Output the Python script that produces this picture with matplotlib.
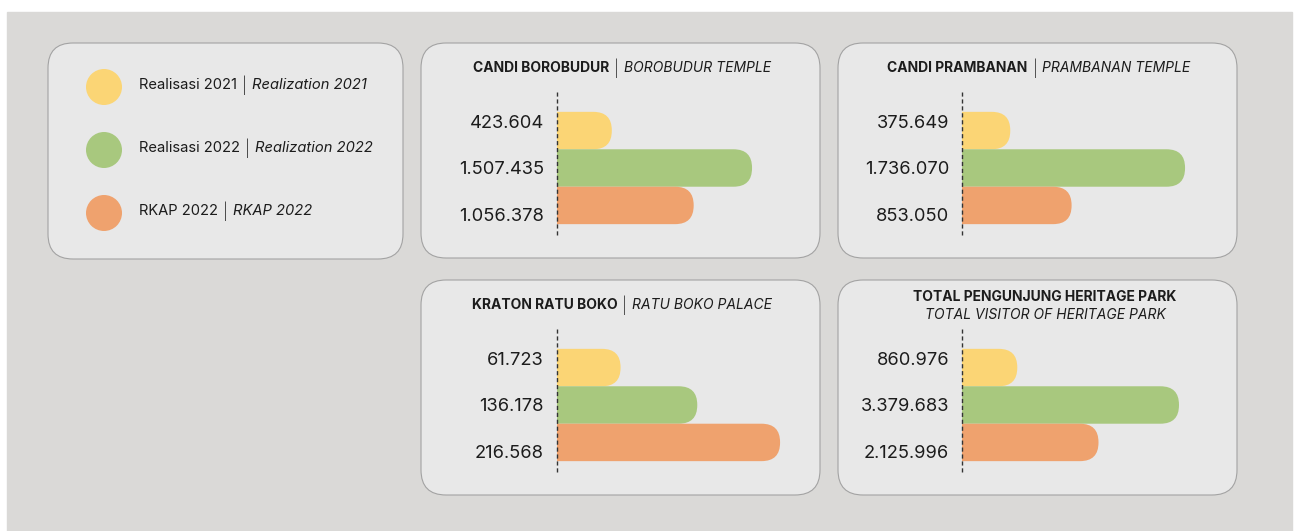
import matplotlib
matplotlib.use("Agg")
import matplotlib.pyplot as plt
from matplotlib.patches import FancyBboxPatch, Circle, Rectangle

plt.rcParams['font.family'] = ['Inter', 'DejaVu Sans']

W, H = 1298, 531

# series
series_id = ["Realisasi 2021", "Realisasi 2022", "RKAP 2022"]
series_en = ["Realization 2021", "Realization 2022", "RKAP 2022"]
colors = ["#FBD575", "#A8C87E", "#EFA26E"]

# visitors per site
borobudur = [423604, 1507435, 1056378]
prambanan = [375649, 1736070, 853050]
ratu_boko = [61723, 136178, 216568]
total_park = [860976, 3379683, 2125996]

fig = plt.figure(figsize=(W / 100, H / 100), dpi=100, facecolor="white")
bg = fig.add_axes([0, 0, 1, 1])
bg.set_xlim(0, W)
bg.set_ylim(H, 0)
bg.axis("off")
bg.add_patch(Rectangle((7, 12), 1285, 525, color="#DAD9D7", zorder=0))

renderer = fig.canvas.get_renderer()


def card(x, y, w, h):
    bg.add_patch(FancyBboxPatch((x, y), w, h, boxstyle="round,pad=0,rounding_size=25",
                                fc="#E8E8E8", ec="#A3A3A3", lw=0.8, zorder=1))


def rich(x, y, parts, ha="left", gap=5):
    # parts: list of (text, fontsize, weight, style)
    texts = []
    for s, fs, wt, st in parts:
        t = bg.text(0, y, s, va="center", ha="left", fontsize=fs, fontweight=wt,
                    fontstyle=st, color="#1c1c1c", zorder=3)
        texts.append(t)
    widths = [t.get_window_extent(renderer).width for t in texts]
    span = sum(widths) + gap * (len(widths) - 1)
    x0 = x - span / 2 if ha == "center" else x
    for t, w in zip(texts, widths):
        t.set_x(x0)
        x0 += w + gap


# legend card
card(48, 43, 355, 216)
for i, (sid, sen, c) in enumerate(zip(series_id, series_en, colors)):
    cy = 87 + i * 63
    bg.add_patch(Circle((104, cy), 18, fc=c, ec="none", zorder=2))
    rich(139, cy - 2, [(sid, 10.6, "normal", "normal"),
                       ("|", 12, "light", "normal"),
                       (sen, 10.6, "normal", "italic")])

panels = [
    ((421, 43), [("CANDI BOROBUDUR", 10, "bold", "normal"), ("|", 11.5, "light", "normal"),
                 ("BOROBUDUR TEMPLE", 10, "normal", "italic")], borobudur, 1.855e6),
    ((838, 43), [("CANDI PRAMBANAN", 10, "bold", "normal"), ("|", 11.5, "light", "normal"),
                 ("PRAMBANAN TEMPLE", 10, "normal", "italic")], prambanan, 1.868e6),
    ((421, 280), [("KRATON RATU BOKO", 10, "bold", "normal"), ("|", 11.5, "light", "normal"),
                  ("RATU BOKO PALACE", 10, "normal", "italic")], ratu_boko, 2.33e5),
    ((838, 280), None, total_park, 3.738e6),
]

ax_w, ax_h = 240, 143
y0, y1 = 2.79, -1.03
for (px, py), title, vals, xmax in panels:
    card(px, py, 399, 215)
    if title is not None:
        rich(px + 201, py + 25, title, ha="center", gap=5)
    else:
        bg.text(px + 207, py + 17, "TOTAL PENGUNJUNG HERITAGE PARK", ha="center", va="center",
                fontsize=10, fontweight="bold", color="#1c1c1c", zorder=3)
        bg.text(px + 207, py + 35, "TOTAL VISITOR OF HERITAGE PARK", ha="center", va="center",
                fontsize=10, fontstyle="italic", color="#1c1c1c", zorder=3)

    left = px + 136 if px < 800 else px + 124
    top = py + 49
    ax = fig.add_axes([left / W, 1 - (top + ax_h) / H, ax_w / W, ax_h / H])
    ax.set_xlim(0, xmax)
    ax.set_ylim(y0, y1)
    ax.axis("off")

    sx = ax_w / xmax                 # px per x unit
    sy = ax_h / abs(y0 - y1)         # px per y unit
    r = 18.5 / sx
    for i, (v, c) in enumerate(zip(vals, colors)):
        ax.add_patch(FancyBboxPatch((-r, i - 0.5), v + r, 1.0,
                                    boxstyle=f"round,pad=0,rounding_size={r}",
                                    mutation_aspect=sx / sy, fc=c, ec="none", zorder=2))
        # value labels are spread a bit wider than the bars
        ax.annotate(f"{v:,}".replace(",", "."), xy=(0, i + (i - 1) * 0.25), xytext=(-13, -2),
                    textcoords="offset pixels", ha="right", va="center",
                    fontsize=13.2, color="#1c1c1c", annotation_clip=False)
    ax.axvline(0, color="#333333", lw=1.0, ls=(0, (3, 2)), zorder=5, clip_on=False)

fig.savefig("out.png", dpi=100, facecolor="white")
